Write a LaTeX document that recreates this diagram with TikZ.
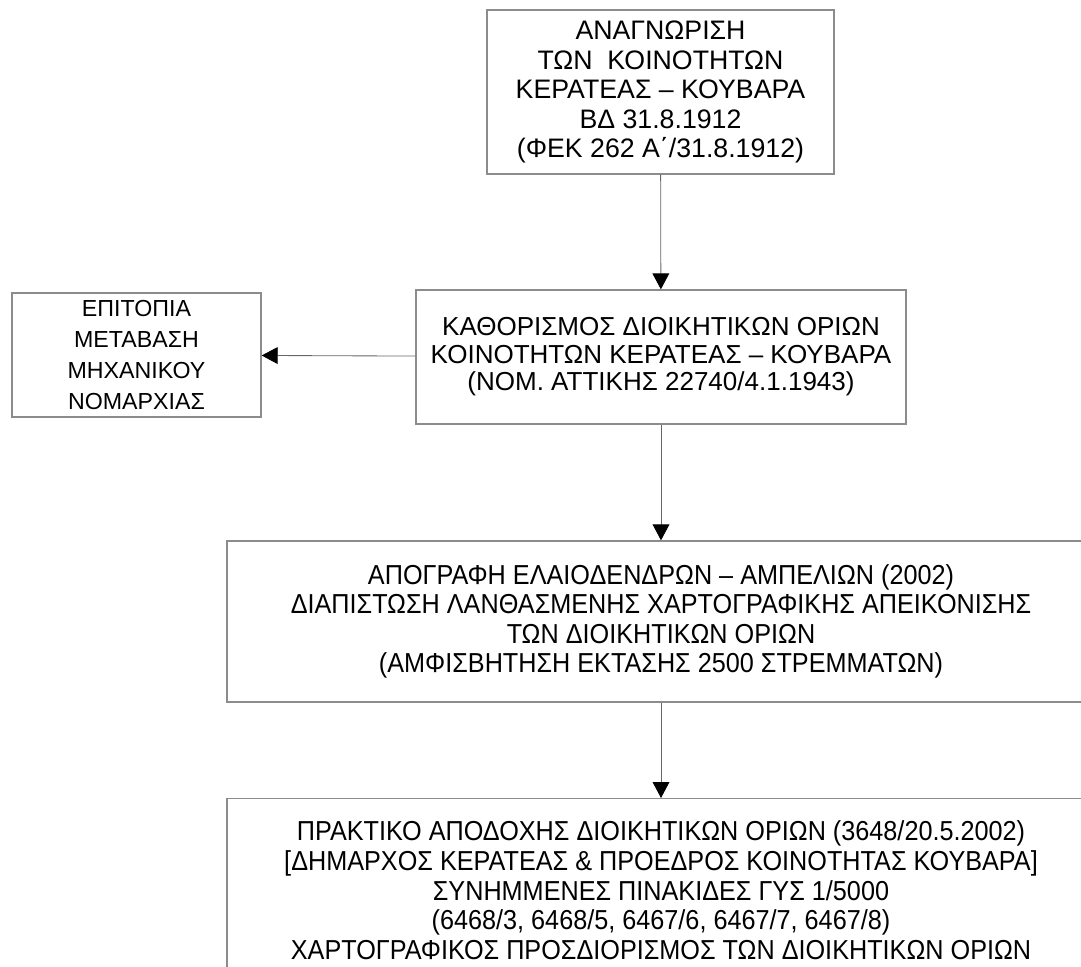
\documentclass[tikz,border=0pt]{standalone}
\usepackage{fontspec}
\setmainfont{Liberation Sans}
\newfontfamily\narrowfont[FakeStretch=0.92]{Liberation Sans}
\usetikzlibrary{arrows.meta,positioning}
\definecolor{boxgray}{HTML}{8C8C8C}
\definecolor{linegray}{HTML}{666666}

\begin{document}
\begin{tikzpicture}[
  x=0.025cm, y=-0.025cm,
  box/.style  = {draw=boxgray, line width=0.9pt, rectangle, align=center,
                 inner sep=0pt, font=\fontsize{19}{21}\selectfont},
  mid/.style  = {box, font=\fontsize{18.5}{19.5}\selectfont},
  side/.style = {box, font=\fontsize{16.5}{22}\selectfont},
  wide/.style = {box, font=\narrowfont\fontsize{19.5}{21}\selectfont},
  txt/.style  = {align=center, inner sep=0pt, font=\narrowfont\fontsize{19.5}{21}\selectfont},
  go/.style   = {-{Triangle[width=4.2mm,length=4mm,color=black]}, draw=linegray, line width=0.6pt},
]
\useasboundingbox (0,0) rectangle (1081,967);

% --- 1912 recognition ---------------------------------------------------
\node[box, minimum width=8.675cm, minimum height=4.1cm] (recog) at (660.5,92)
  {ΑΝΑΓΝΩΡΙΣΗ\\ ΤΩΝ\ \ ΚΟΙΝΟΤΗΤΩΝ\\ ΚΕΡΑΤΕΑΣ – ΚΟΥΒΑΡΑ\\ ΒΔ 31.8.1912\\ (ΦΕΚ 262 Α΄/31.8.1912)};

% --- 1943 boundaries ----------------------------------------------------
\node[mid, minimum width=12.25cm, minimum height=3.35cm] (limits) at (661,357)
  {ΚΑΘΟΡΙΣΜΟΣ ΔΙΟΙΚΗΤΙΚΩΝ ΟΡΙΩΝ\\ ΚΟΙΝΟΤΗΤΩΝ ΚΕΡΑΤΕΑΣ – ΚΟΥΒΑΡΑ\\ (ΝΟΜ. ΑΤΤΙΚΗΣ 22740/4.1.1943)};
\draw[go] (recog) -- (limits);

\node[side, minimum width=6.225cm, minimum height=3.1cm] (visit) at (136.5,355)
  {ΕΠΙΤΟΠΙΑ\\ ΜΕΤΑΒΑΣΗ\\ ΜΗΧΑΝΙΚΟΥ\\ ΝΟΜΑΡΧΙΑΣ};
\draw[go] (limits) -- (visit);

% --- 2002 census and protocol -------------------------------------------
\node[wide, minimum width=21.7cm, minimum height=4.025cm] (census) at (661,621.5)
  {ΑΠΟΓΡΑΦΗ ΕΛΑΙΟΔΕΝΔΡΩΝ – ΑΜΠΕΛΙΩΝ (2002)\\
   ΔΙΑΠΙΣΤΩΣΗ ΛΑΝΘΑΣΜΕΝΗΣ ΧΑΡΤΟΓΡΑΦΙΚΗΣ ΑΠΕΙΚΟΝΙΣΗΣ\\
   ΤΩΝ ΔΙΟΙΚΗΤΙΚΩΝ ΟΡΙΩΝ\\
   (ΑΜΦΙΣΒΗΤΗΣΗ ΕΚΤΑΣΗΣ 2500 ΣΤΡΕΜΜΑΤΩΝ)};
\draw[go] (limits) -- (census);

% frame runs past the page bottom
\node[box, minimum width=21.7cm, minimum height=5cm, anchor=north] (protocol) at (661,798) {};
\node[txt, below=0.57cm of protocol.north] (protocoltext)
  {ΠΡΑΚΤΙΚΟ ΑΠΟΔΟΧΗΣ ΔΙΟΙΚΗΤΙΚΩΝ ΟΡΙΩΝ (3648/20.5.2002)\\
   {[}ΔΗΜΑΡΧΟΣ ΚΕΡΑΤΕΑΣ \& ΠΡΟΕΔΡΟΣ ΚΟΙΝΟΤΗΤΑΣ ΚΟΥΒΑΡΑ{]}\\
   ΣΥΝΗΜΜΕΝΕΣ ΠΙΝΑΚΙΔΕΣ ΓΥΣ 1/5000\\
   (6468/3, 6468/5, 6467/6, 6467/7, 6467/8)\\
   ΧΑΡΤΟΓΡΑΦΙΚΟΣ ΠΡΟΣΔΙΟΡΙΣΜΟΣ ΤΩΝ ΔΙΟΙΚΗΤΙΚΩΝ ΟΡΙΩΝ};
\draw[go] (census) -- (protocol);

\end{tikzpicture}
\end{document}
